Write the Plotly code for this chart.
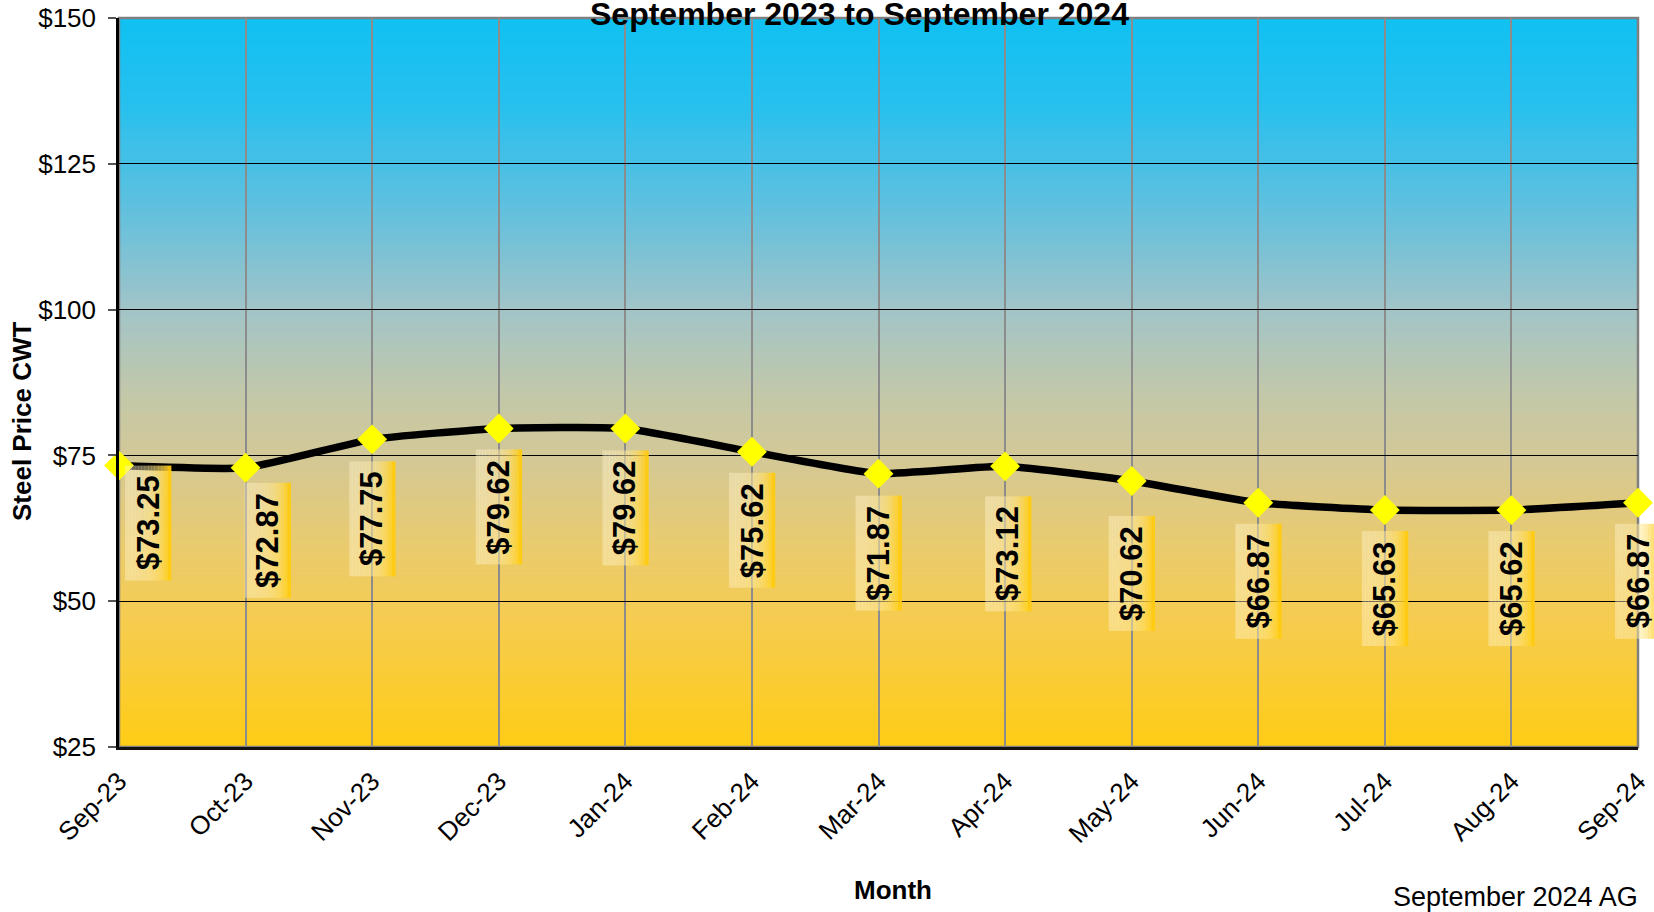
import base64, struct, zlib
import plotly.graph_objects as go

months = ["Sep-23", "Oct-23", "Nov-23", "Dec-23", "Jan-24", "Feb-24", "Mar-24",
          "Apr-24", "May-24", "Jun-24", "Jul-24", "Aug-24", "Sep-24"]
prices = [73.25, 72.87, 77.75, 79.62, 79.62, 75.62, 71.87, 73.12, 70.62,
          66.87, 65.63, 65.62, 66.87]
y_ticks = [25, 50, 75, 100, 125, 150]

title_text = "September 2023 to September 2024"
x_title = "Month"
y_title = "Steel Price CWT"
footer = "September 2024 AG"

# label placement tweaks (pixels): horizontal shift, gap below the marker
label_dx = [29, 22, 0, 0, 0, 0, 0, 3, 0, 0, 0, 0, 0]
label_gap = [0, 15, 22, 21, 22, 21, 22, 30, 35, 21, 21, 21, 21]

W, H = 1654, 912
L, R, T, B = 119, 16, 18, 165
PW, PH = W - L - R, H - T - B
FONT = "Liberation Sans, Arial, sans-serif"


def px_x(p):
    return (p - L) / PW


def px_y(p):
    return (H - B - p) / PH


def gradient_png(stops, n=256):
    raw = b""
    for i in range(n):
        t = i / (n - 1)
        for k in range(len(stops) - 1):
            t0, c0 = stops[k]
            t1, c1 = stops[k + 1]
            if t0 <= t <= t1:
                f = (t - t0) / (t1 - t0) if t1 > t0 else 0
                c = [round(c0[j] + (c1[j] - c0[j]) * f) for j in range(3)]
                break
        raw += b"\x00" + bytes(c)

    def chunk(tag, data):
        return (struct.pack(">I", len(data)) + tag + data +
                struct.pack(">I", zlib.crc32(tag + data) & 0xffffffff))

    png = (b"\x89PNG\r\n\x1a\n" +
           chunk(b"IHDR", struct.pack(">IIBBBBB", 1, n, 8, 2, 0, 0, 0)) +
           chunk(b"IDAT", zlib.compress(raw)) + chunk(b"IEND", b""))
    return "data:image/png;base64," + base64.b64encode(png).decode()


bg_stops = [
    (0.00, (16, 193, 242)),
    (0.12, (40, 192, 238)),
    (0.25, (92, 192, 224)),
    (0.40, (162, 196, 200)),
    (0.52, (196, 200, 168)),
    (0.60, (211, 200, 152)),
    (0.72, (233, 203, 112)),
    (0.82, (245, 204, 82)),
    (1.00, (255, 204, 22)),
]

n = len(months)
xs = list(range(n))

fig = go.Figure()
fig.add_trace(go.Scatter(
    x=xs, y=prices, mode="lines+markers",
    line=dict(color="black", width=7.5, shape="spline", smoothing=0.45),
    marker=dict(symbol="diamond", size=23, color="#FFFF00",
                line=dict(width=0)),
    cliponaxis=False, hoverinfo="skip", showlegend=False,
))

shapes = []
# plot area border
shapes.append(dict(type="rect", xref="paper", yref="paper", x0=0, x1=1, y0=0, y1=1,
                   line=dict(color="#7F7F7F", width=2.5), layer="below"))

# label boxes with horizontal gradient
BOX_W, BOX_H, NS = 46, 115, 14
for i, v in enumerate(prices):
    dx, gap = label_dx[i], label_gap[i]
    for s in range(NS):
        t = (s + 0.5) / NS
        e = t ** 2.2
        g = round(244 + (200 - 244) * e)
        b = round(205 + (0 - 205) * e)
        a = 0.42 + 0.58 * (t ** 3)
        x0 = dx - BOX_W / 2 + BOX_W * s / NS
        x1 = dx - BOX_W / 2 + BOX_W * (s + 1) / NS + 0.4
        shapes.append(dict(
            type="rect", xref="paper", yref="y",
            xsizemode="pixel", xanchor=i / (n - 1), x0=x0, x1=x1,
            ysizemode="pixel", yanchor=v, y0=-gap, y1=-(gap + BOX_H),
            fillcolor=f"rgba(255,{g},{b},{a:.3f})", line=dict(width=0),
            layer="above"))

annotations = []
for i, v in enumerate(prices):
    annotations.append(dict(
        x=i, y=v, xref="x", yref="y", text=f"${v:.2f}", showarrow=False,
        textangle=-90, xanchor="center", yanchor="middle",
        xshift=label_dx[i], yshift=-(label_gap[i] + BOX_H / 2),
        font=dict(family=FONT, size=31, color="black", weight="bold")))

annotations += [
    dict(text=f"<b>{title_text}</b>", xref="paper", yref="paper",
         x=px_x(859), y=px_y(14), xanchor="center", yanchor="middle",
         showarrow=False, font=dict(family=FONT, size=32, color="black")),
    dict(text=f"<b>{x_title}</b>", xref="paper", yref="paper",
         x=px_x(893), y=px_y(890), xanchor="center", yanchor="middle",
         showarrow=False, font=dict(family=FONT, size=26, color="black")),
    dict(text=f"<b>{y_title}</b>", xref="paper", yref="paper",
         x=px_x(22), y=px_y(421), xanchor="center", yanchor="middle",
         textangle=-90, showarrow=False,
         font=dict(family=FONT, size=26, color="black")),
    dict(text=footer, xref="paper", yref="paper",
         x=px_x(1640), y=px_y(897), xanchor="right", yanchor="middle",
         showarrow=False, font=dict(family=FONT, size=27, color="black")),
]

fig.update_layout(
    width=W, height=H, margin=dict(l=L, r=R, t=T, b=B, pad=0),
    paper_bgcolor="white", plot_bgcolor="rgba(0,0,0,0)",
    font=dict(family=FONT, color="black"),
    showlegend=False,
    shapes=shapes, annotations=annotations,
    images=[dict(source=gradient_png(bg_stops), xref="paper", yref="paper",
                 x=0, y=1, sizex=1, sizey=1, xanchor="left", yanchor="top",
                 sizing="stretch", layer="below")],
    xaxis=dict(range=[0, n - 1], tickvals=xs, ticktext=months, tickangle=-45,
               showgrid=True, gridcolor="#8C8C8C", gridwidth=2,
               showline=True, linecolor="#111111", linewidth=2.5,
               ticks="", ticklabelstandoff=6,
               tickfont=dict(family=FONT, size=26, color="black"),
               zeroline=False, automargin=False, fixedrange=True),
    yaxis=dict(range=[25, 150], tickvals=y_ticks,
               ticktext=[f"${t}" for t in y_ticks],
               showgrid=True, gridcolor="black", gridwidth=1,
               showline=True, linecolor="black", linewidth=2.5,
               ticks="outside", ticklen=8, tickcolor="#555555", tickwidth=1.5,
               ticklabelstandoff=7,
               tickfont=dict(family=FONT, size=26, color="black"),
               zeroline=False, automargin=False, fixedrange=True),
)

fig.write_html("out.html", config={"displayModeBar": False},
               post_script="document.body.style.margin='0';")
